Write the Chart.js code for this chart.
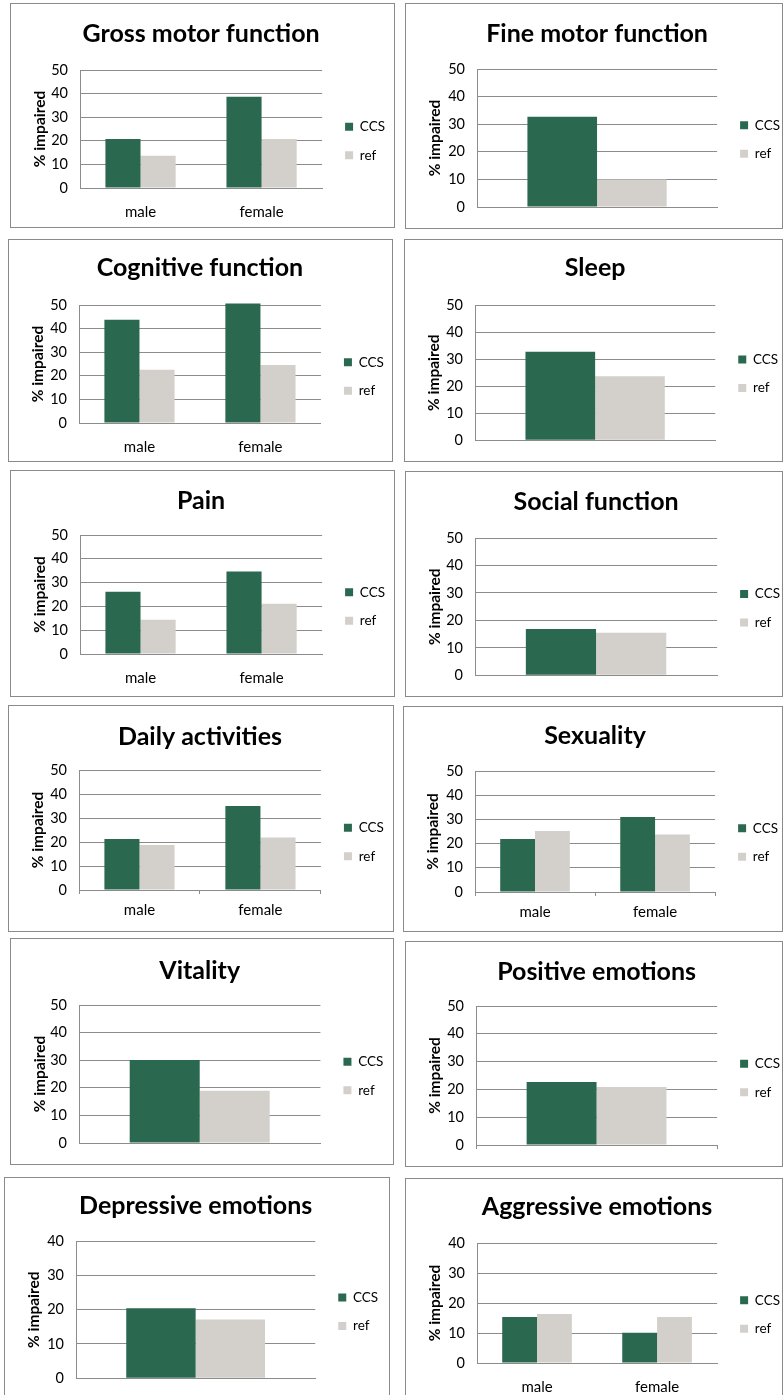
<!DOCTYPE html>
<html>
<head>
<meta charset="utf-8">
<script src="https://cdn.jsdelivr.net/npm/chart.js@4.4.1/dist/chart.umd.min.js"></script>
<style>
  html, body { margin: 0; padding: 0; background: #fff; }
  body { width: 784px; height: 1395px; position: relative; overflow: hidden; }
  .frame { position: absolute; box-sizing: border-box; border: 1px solid #8a8a8a; background: #fff; }
  canvas { position: absolute; }
</style>
</head>
<body>
<script>
// ---- data: % impaired, childhood cancer survivors (CCS) vs reference group ----
const sexes = ['male', 'female'];
const pooled = [''];

const grossMotorCCS = [20.8, 38.7];
const grossMotorRef = [13.7, 20.8];
const fineMotorCCS = [32.7];
const fineMotorRef = [10.0];
const cognitiveCCS = [43.8, 50.6];
const cognitiveRef = [22.6, 24.6];
const sleepCCS = [32.7];
const sleepRef = [23.7];
const painCCS = [26.2, 34.7];
const painRef = [14.4, 21.1];
const socialCCS = [16.9];
const socialRef = [15.5];
const dailyCCS = [21.2, 35.0];
const dailyRef = [18.7, 21.9];
const sexualityCCS = [21.9, 31.0];
const sexualityRef = [25.2, 23.8];
const vitalityCCS = [30.1];
const vitalityRef = [18.9];
const positiveCCS = [22.7];
const positiveRef = [20.9];
const depressiveCCS = [20.4];
const depressiveRef = [17.1];
const aggressiveCCS = [15.3, 10.1];
const aggressiveRef = [16.3, 15.3];

const seriesNames = ['CCS', 'ref'];
const axisTitle = '% impaired';

const panels = [
  { title: 'Gross motor function', cats: sexes,  ccs: grossMotorCCS, ref: grossMotorRef, max: 50 },
  { title: 'Fine motor function',  cats: pooled, ccs: fineMotorCCS,  ref: fineMotorRef,  max: 50 },
  { title: 'Cognitive function',   cats: sexes,  ccs: cognitiveCCS,  ref: cognitiveRef,  max: 50 },
  { title: 'Sleep',                cats: pooled, ccs: sleepCCS,      ref: sleepRef,      max: 50 },
  { title: 'Pain',                 cats: sexes,  ccs: painCCS,       ref: painRef,       max: 50 },
  { title: 'Social function',      cats: pooled, ccs: socialCCS,     ref: socialRef,     max: 50 },
  { title: 'Daily activities',     cats: sexes,  ccs: dailyCCS,      ref: dailyRef,      max: 50 },
  { title: 'Sexuality',            cats: sexes,  ccs: sexualityCCS,  ref: sexualityRef,  max: 50 },
  { title: 'Vitality',             cats: pooled, ccs: vitalityCCS,   ref: vitalityRef,   max: 50 },
  { title: 'Positive emotions',    cats: pooled, ccs: positiveCCS,   ref: positiveRef,   max: 50 },
  { title: 'Depressive emotions',  cats: pooled, ccs: depressiveCCS, ref: depressiveRef, max: 40 },
  { title: 'Aggressive emotions',  cats: sexes,  ccs: aggressiveCCS, ref: aggressiveRef, max: 40 }
];

// ---- layout (page pixels) ----
// framed panel boxes: [left, top, right, bottom]
const frames = [
  [10, 3, 395, 228],   [405, 3, 783, 229],
  [8, 239, 393, 462],  [404, 239, 783, 462],
  [10, 470, 395, 697], [405, 471, 783, 697],
  [8, 705, 394, 932],  [403, 706, 783, 932],
  [10, 938, 394, 1165], [405, 941, 783, 1167],
  [4, 1177, 390, 1400], [405, 1178, 783, 1400]
];
// plot areas: [left, top, right, bottom]
const plotAreas = [
  [80, 70, 321, 188],   [477, 69, 716, 207],
  [79, 305, 320, 423],  [475, 305, 714, 442],
  [80, 535, 321, 654],  [475, 538, 716, 676],
  [79, 770, 320, 890],  [475, 771, 714, 892],
  [79, 1005, 319, 1143], [476, 1006, 716, 1145],
  [76, 1241, 314, 1380], [477, 1243, 716, 1363]
];
const titleMid = [34, 34, 268, 268, 501, 502, 737, 736, 971, 972, 1206, 1207];
const legendShift = [24, 3, 25, 2, 24, 3, 24, 22, 4, 5, 4, 23];
const tickMarks = [false, false, false, false, false, false, true, true, false, true, false, false];

const CCS_COLOR = '#2b6850';
const REF_COLOR = '#d3d0cb';
const GRID_COLOR = '#8c8c8c';
const FONT_FAMILY = 'Lato, "Open Sans", sans-serif';
const LEGEND_SIZE = 13.5, LEGEND_BOX = 8, LEGEND_PAD = 15;

Chart.defaults.font.family = FONT_FAMILY;
Chart.defaults.color = '#000';

// natural width of the right-hand legend column, as Chart.js computes it
const measureCtx = document.createElement('canvas').getContext('2d');
measureCtx.font = `normal ${LEGEND_SIZE}px ${FONT_FAMILY}`;
const legendTextW = Math.max(...seriesNames.map(s => measureCtx.measureText(s).width));
const legendW = LEGEND_PAD + LEGEND_BOX + LEGEND_SIZE / 2 + legendTextW + 10;
const CANVAS_EXTRA = 40;

panels.forEach((p, i) => {
  const [bl, bt, br, bb] = frames[i];
  const [pl, pt, pr, pb] = plotAreas[i];

  const frame = document.createElement('div');
  frame.className = 'frame';
  frame.style.left = bl + 'px';
  frame.style.top = bt + 'px';
  frame.style.width = (br - bl) + 'px';
  frame.style.height = (bb - bt) + 'px';
  document.body.appendChild(frame);

  const cx = bl + 1, cy = bt + 1;
  const cw = br - bl - 2 + CANVAS_EXTRA, ch = bb - bt - 2;
  const canvas = document.createElement('canvas');
  canvas.width = cw; canvas.height = ch;
  canvas.style.left = cx + 'px';
  canvas.style.top = cy + 'px';
  canvas.style.width = cw + 'px';
  canvas.style.height = ch + 'px';
  document.body.appendChild(canvas);

  const twoCats = p.cats.length > 1;
  const ticked = tickMarks[i];
  const xAxisH = twoCats ? 30 : 2;
  const titleSize = 25, titleLH = titleSize * 1.2;
  const tPadTop = titleMid[i] - cy - titleLH / 2;
  const tPadBottom = (pt - cy) - titleLH - tPadTop;
  const yAxisW = pl - cx;
  const gapW = 8;
  const padRight = cw - (pr - cx) - gapW - legendW;
  const padBottom = ch - (pb - cy) - xAxisH;

  new Chart(canvas, {
    type: 'bar',
    data: {
      labels: p.cats,
      datasets: [
        { label: seriesNames[0], data: p.ccs, backgroundColor: CCS_COLOR, xAxisID: 'x', yAxisID: 'y',
          categoryPercentage: 0.58, barPercentage: 1.0, clip: false },
        { label: seriesNames[1], data: p.ref, backgroundColor: REF_COLOR, xAxisID: 'x', yAxisID: 'y',
          categoryPercentage: 0.58, barPercentage: 1.0, clip: false }
      ]
    },
    options: {
      responsive: false,
      maintainAspectRatio: false,
      animation: false,
      devicePixelRatio: 1,
      events: [],
      layout: { padding: { left: 0, top: 0, right: padRight, bottom: padBottom } },
      plugins: {
        tooltip: { enabled: false },
        title: {
          display: true,
          fullSize: false,
          text: p.title,
          color: '#000',
          font: { size: titleSize, weight: 'bold', lineHeight: 1.2 },
          padding: { top: tPadTop, bottom: tPadBottom }
        },
        legend: {
          display: true,
          position: 'right',
          align: 'center',
          fullSize: false,
          title: { display: true, text: '', font: { size: 1, lineHeight: 1 },
                   padding: { top: legendShift[i] - 1, bottom: 0 } },
          labels: { boxWidth: LEGEND_BOX, boxHeight: LEGEND_BOX, padding: LEGEND_PAD, color: '#000',
                    font: { size: LEGEND_SIZE } }
        }
      },
      scales: {
        x: {
          type: 'category',
          position: 'bottom',
          offset: true,
          grid: { display: ticked, drawOnChartArea: false, drawTicks: true,
                  tickLength: 4, color: GRID_COLOR },
          border: { display: true, color: GRID_COLOR, width: 1 },
          ticks: { display: twoCats, padding: ticked ? 7 : 11, color: '#000',
                   font: { size: 15 } },
          afterFit(s) { s.height = xAxisH; }
        },
        y: {
          type: 'linear',
          position: 'left',
          min: 0,
          max: p.max,
          grid: { color: GRID_COLOR, lineWidth: 1, drawTicks: false },
          border: { display: true, color: GRID_COLOR, width: 1 },
          ticks: { stepSize: 10, padding: 12, color: '#000', font: { size: 14.5 } },
          title: { display: true, text: axisTitle, color: '#000',
                   font: { size: 15.5, weight: 'bold' }, padding: { top: 19.7, bottom: 0 } },
          afterFit(s) { s.width = yAxisW; }
        },
        gap: {
          type: 'linear',
          position: 'right',
          display: true,
          grid: { display: false },
          border: { display: false },
          ticks: { display: false },
          afterFit(s) { s.width = gapW; }
        }
      }
    }
  });
});
</script>
</body>
</html>
